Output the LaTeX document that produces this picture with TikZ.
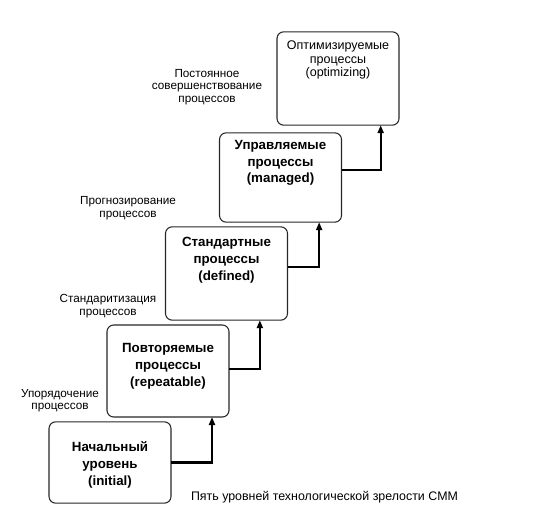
\documentclass[tikz,border=0pt]{standalone}
\usepackage{fontspec}
\setmainfont{Liberation Sans}
\usetikzlibrary{arrows.meta}
\begin{document}
\begin{tikzpicture}[x=0.75pt,y=-0.75pt,
  level/.style={draw=black!85,line width=0.8pt,rounded corners=5pt,inner sep=0pt,outer sep=0pt,minimum width=91.5pt},
  leveltext/.style={align=center,font=\fontsize{10pt}{12.6pt}\selectfont\bfseries},
  note/.style={align=center,font=\fontsize{8.8pt}{9.4pt}\selectfont},
  stepline/.style={line width=1.6pt,-{Triangle[length=6pt,width=4.5pt]}}]
  \useasboundingbox (0,0) rectangle (545,520);
  % уровни
  \node[level,minimum height=61pt] (initial) at (110,462.5) {};
  \node[level,minimum height=69pt] (repeatable) at (168,371) {};
  \node[level,minimum height=70pt] (defined) at (226.5,273.5) {};
  \node[level,minimum height=67pt] (managed) at (280.5,177.5) {};
  \node[level,minimum height=70pt] (optimizing) at (338,78.5) {};
  \node[leveltext] (initialtxt) at (110,465) {Начальный\\уровень\\(initial)};
  \node[leveltext] (repeatabletxt) at (168,366) {Повторяемые\\процессы\\(repeatable)};
  \node[leveltext] (definedtxt) at (226.5,260) {Стандартные\\процессы\\(defined)};
  \node[leveltext] (managedtxt) at (280.5,163) {Управляемые\\процессы\\(managed)};
  \node[note,font=\fontsize{9.4pt}{10.4pt}\selectfont] (optimizingtxt) at (338,60) {Оптимизируемые\\процессы\\(optimizing)};
  % переходы
  \draw[stepline] (initial.east) -| ([xshift=33pt]repeatable.south);
  \draw[stepline] ([yshift=1.5pt]repeatable.east) -| ([xshift=25pt]defined.south);
  \draw[stepline] ([yshift=4.9pt]defined.east) -| ([xshift=29pt]managed.south);
  \draw[stepline] ([yshift=5.6pt]managed.east) -| ([xshift=32pt]optimizing.south);
  % подписи
  \node[note] (order) at (60,400.5) {Упорядочение\\процессов};
  \node[note] (standard) at (108,306) {Стандаритизация\\процессов};
  \node[note] (predict) at (128,208) {Прогнозирование\\процессов};
  \node[note] (improve) at (207,87) {Постоянное\\совершенствование\\процессов};
  \node[note,font=\fontsize{9.3pt}{10pt}\selectfont] (caption) at (324.5,497) {Пять уровней технологической зрелости CMM};
\end{tikzpicture}
\end{document}
